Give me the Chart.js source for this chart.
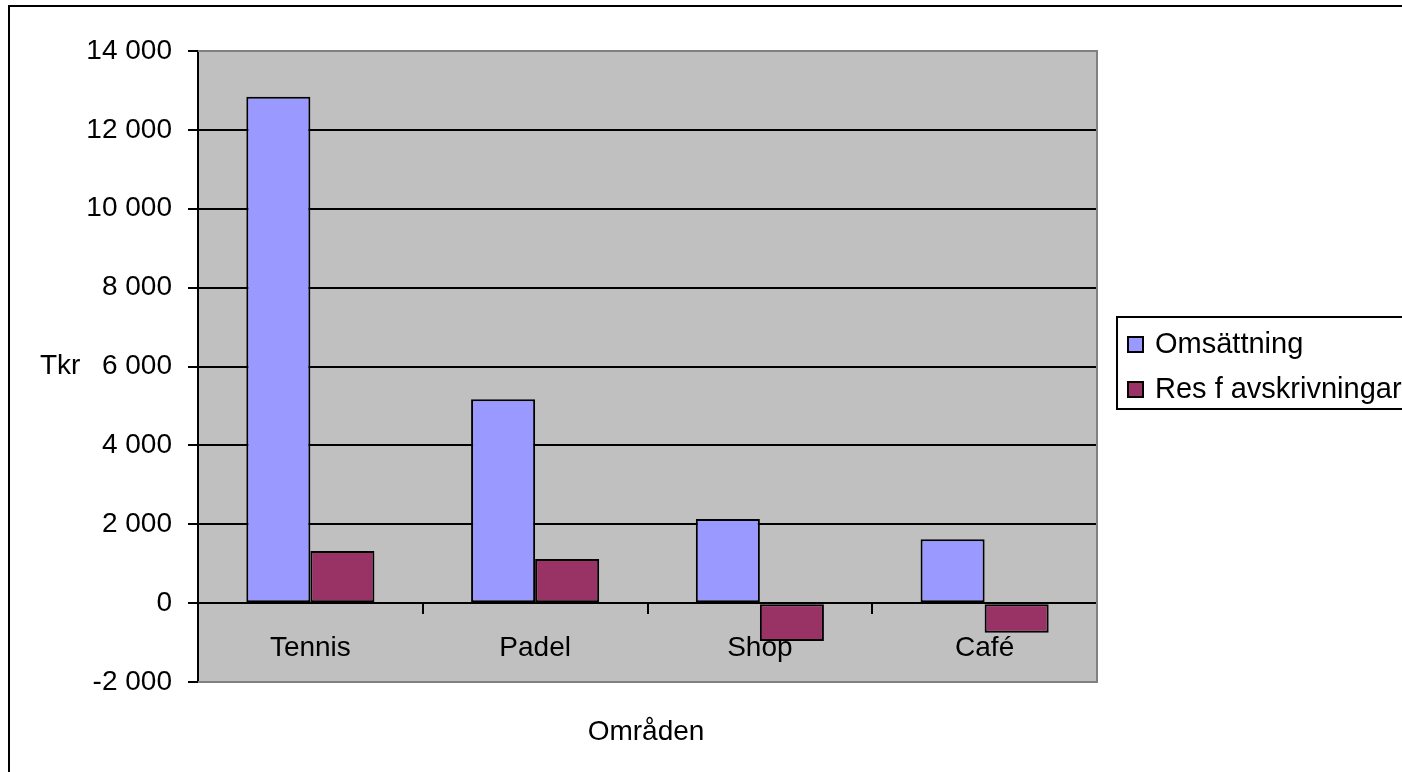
<!DOCTYPE html>
<html>
<head>
<meta charset="utf-8">
<title>Omsättning per område</title>
<script src="https://cdn.jsdelivr.net/npm/chart.js@4"></script>
<style>
  html, body { margin: 0; padding: 0; background: #fff; }
  canvas { display: block; }
</style>
</head>
<body>
<canvas id="chart" width="1402" height="772"></canvas>
<script>
// Excel-style clustered column chart: turnover vs. result before depreciation per area.
const CATEGORIES = ['Tennis', 'Padel', 'Shop', 'Café'];
const OMSATTNING = [12840, 5170, 2130, 1620];
const RES_F_AVSKR = [1320, 1120, -960, -750];
const SERIES_LABELS = ['Omsättning', 'Res f avskrivningar'];
const Y_TICKS = [-2000, 0, 2000, 4000, 6000, 8000, 10000, 12000, 14000];
const Y_TITLE = 'Tkr';
const X_TITLE = 'Områden';

const FONT = '"Liberation Sans", Arial, sans-serif';
const FONT_SIZE = 28;

function formatThousands(v) {
  const s = String(Math.abs(v)).replace(/\B(?=(\d{3})+(?!\d))/g, ' ');
  return (v < 0 ? '-' : '') + s;
}

// gray plot area behind the grid
const plotBackground = {
  id: 'plot-background',
  beforeDraw(chart) {
    const { left, top, right, bottom } = chart.chartArea;
    const ctx = chart.ctx;
    ctx.save();
    ctx.fillStyle = '#fff';
    ctx.fillRect(0, 0, chart.width, chart.height);
    ctx.fillStyle = '#C0C0C0';
    ctx.fillRect(left, top, right - left, bottom - top);
    ctx.restore();
  },
  afterDraw(chart) {
    const { left, top, right, bottom } = chart.chartArea;
    const ctx = chart.ctx;
    ctx.save();
    ctx.strokeStyle = '#808080';
    ctx.lineWidth = 2;
    ctx.beginPath();
    ctx.moveTo(left, top);
    ctx.lineTo(right, top);
    ctx.lineTo(right, bottom);
    ctx.lineTo(left, bottom);
    ctx.stroke();
    // outer chart frame, runs off the right and bottom edges
    ctx.strokeStyle = '#000';
    ctx.strokeRect(9, 6, chart.width + 20, chart.height + 20);
    ctx.restore();
  }
};

// axis titles, both horizontal as in the original
const axisTitles = {
  id: 'axis-titles',
  afterDraw(chart) {
    const ctx = chart.ctx;
    const y = chart.scales.y;
    ctx.save();
    ctx.fillStyle = '#000';
    ctx.font = FONT_SIZE + 'px ' + FONT;
    ctx.textBaseline = 'middle';
    ctx.textAlign = 'left';
    ctx.fillText(Y_TITLE, 40, y.getPixelForValue(6000));
    ctx.textAlign = 'center';
    ctx.fillText(X_TITLE, 646, 732);
    ctx.restore();
  }
};

// boxed legend at the right, clipped by the canvas edge like the source
const boxLegend = {
  id: 'box-legend',
  afterDraw(chart) {
    const ctx = chart.ctx;
    const x0 = 1117, y0 = 317, rowH = 45;
    ctx.save();
    ctx.fillStyle = '#fff';
    ctx.fillRect(x0, y0, chart.width - x0 + 10, 92);
    ctx.strokeStyle = '#000';
    ctx.lineWidth = 2;
    ctx.strokeRect(x0, y0, chart.width - x0 + 10, 92);
    ctx.font = (FONT_SIZE + 1) + 'px ' + FONT;
    ctx.textBaseline = 'middle';
    ctx.textAlign = 'left';
    chart.data.datasets.forEach((ds, i) => {
      const cy = y0 + 28 + i * rowH;
      ctx.fillStyle = ds.backgroundColor;
      ctx.fillRect(1128, cy - 8, 15, 15);
      ctx.strokeStyle = '#000';
      ctx.lineWidth = 2;
      ctx.strokeRect(1128, cy - 8, 15, 15);
      ctx.fillStyle = '#000';
      ctx.fillText(ds.label, 1155, cy);
    });
    ctx.restore();
  }
};

new Chart(document.getElementById('chart'), {
  type: 'bar',
  data: {
    labels: CATEGORIES,
    datasets: [
      {
        label: SERIES_LABELS[0],
        data: OMSATTNING,
        backgroundColor: '#9999FF',
        borderColor: '#000',
        borderWidth: 2,
        borderSkipped: false
      },
      {
        label: SERIES_LABELS[1],
        data: RES_F_AVSKR,
        backgroundColor: '#993366',
        borderColor: '#000',
        borderWidth: 2,
        borderSkipped: false
      }
    ]
  },
  options: {
    responsive: false,
    animation: false,
    devicePixelRatio: 1,
    layout: { padding: { left: 0, top: 51, right: 305, bottom: 90 } },
    datasets: { bar: { categoryPercentage: 0.57, barPercentage: 1.0 } },
    plugins: {
      legend: { display: false },
      tooltip: { enabled: false }
    },
    scales: {
      x: {
        position: { y: 0 },
        grid: {
          drawOnChartArea: false,
          offset: true,
          tickLength: 10,
          color: '#000',
          lineWidth: 2
        },
        border: { color: '#000', width: 2 },
        ticks: {
          color: '#000',
          padding: 18,
          font: { family: FONT, size: FONT_SIZE }
        }
      },
      y: {
        min: Y_TICKS[0],
        max: Y_TICKS[Y_TICKS.length - 1],
        afterFit(scale) { scale.width = 198; },
        afterBuildTicks(scale) { scale.ticks = Y_TICKS.map((v) => ({ value: v })); },
        grid: {
          color: (ctx) => (ctx.tick && (ctx.tick.value === Y_TICKS[0] || ctx.tick.value === Y_TICKS[Y_TICKS.length - 1]) ? 'rgba(0,0,0,0)' : '#000'),
          tickColor: '#000',
          lineWidth: 2,
          tickLength: 10
        },
        border: { color: '#000', width: 2 },
        ticks: {
          color: '#000',
          padding: 16,
          font: { family: FONT, size: FONT_SIZE },
          callback: (v) => formatThousands(v)
        }
      }
    }
  },
  plugins: [plotBackground, axisTitles, boxLegend]
});
</script>
</body>
</html>
